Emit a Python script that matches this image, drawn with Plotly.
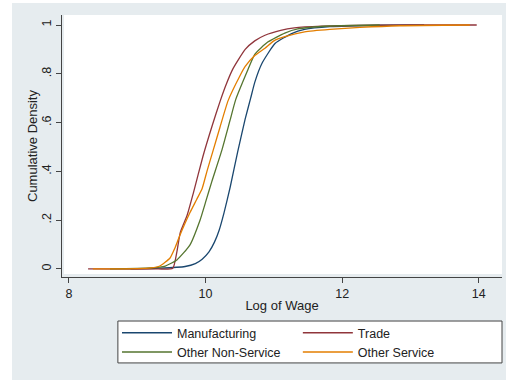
import plotly.graph_objects as go

# ---- data ----
series_names = ["Manufacturing", "Trade", "Other Non-Service", "Other Service"]
series_colors = ["#1a476f", "#90353b", "#55752f", "#e37e00"]
series_legend = ["legend", "legend2", "legend", "legend2"]

manuf_x = [8.90, 9.33, 9.70, 9.85, 9.95, 10.05, 10.13, 10.20, 10.27, 10.36, 10.47,
           10.58, 10.66, 10.72, 10.83, 11.02, 11.26, 11.45, 11.82, 12.55, 13.20]
manuf_y = [0.0, 0.003, 0.010, 0.022, 0.040, 0.070, 0.110, 0.160, 0.230, 0.335, 0.48,
           0.615, 0.70, 0.765, 0.845, 0.925, 0.965, 0.982, 0.993, 0.999, 1.0]

trade_x = [8.28, 9.30, 9.52, 9.58, 9.63, 9.73, 9.82, 9.96, 10.10, 10.21, 10.30, 10.40,
           10.58, 10.72, 10.87, 11.10, 11.30, 11.70, 12.20, 13.00, 13.97]
trade_y = [0.0, 0.0, 0.003, 0.07, 0.15, 0.22, 0.31, 0.46, 0.59, 0.685, 0.755, 0.82,
           0.90, 0.935, 0.958, 0.978, 0.988, 0.995, 0.998, 1.0, 1.0]

nonserv_x = [8.60, 9.19, 9.41, 9.58, 9.77, 9.92, 10.01, 10.09, 10.24, 10.36, 10.44,
             10.61, 10.72, 10.91, 11.16, 11.35, 11.82, 12.55]
nonserv_y = [0.0, 0.004, 0.012, 0.037, 0.098, 0.201, 0.283, 0.357, 0.488, 0.611, 0.693,
             0.81, 0.88, 0.93, 0.967, 0.984, 0.996, 1.0]

othserv_x = [8.35, 9.00, 9.20, 9.33, 9.48, 9.55, 9.62, 9.77, 9.87, 9.95, 10.02, 10.11,
             10.21, 10.33, 10.50, 10.58, 10.72, 10.87, 11.00, 11.16, 11.45, 11.82,
             12.26, 12.84, 13.87]
othserv_y = [0.0, 0.001, 0.004, 0.012, 0.045, 0.085, 0.135, 0.23, 0.285, 0.33, 0.40, 0.485,
             0.58, 0.69, 0.79, 0.83, 0.875, 0.905, 0.935, 0.952, 0.972, 0.982,
             0.99, 0.997, 1.0]

x_ticks = [8, 10, 12, 14]
y_ticks = [0, 0.2, 0.4, 0.6, 0.8, 1]
y_tick_labels = ["0", ".2", ".4", ".6", ".8", "1"]

xs = [manuf_x, trade_x, nonserv_x, othserv_x]
ys = [manuf_y, trade_y, nonserv_y, othserv_y]

FONT = "Liberation Sans, Arial, sans-serif"
AXC = "#444444"
TXT = "#222222"

fig = go.Figure()
for name, col, lg, x, y in zip(series_names, series_colors, series_legend, xs, ys):
    fig.add_trace(go.Scatter(
        x=x, y=y, mode="lines", name=name, legend=lg,
        line=dict(color=col, width=1.3, shape="spline", smoothing=0.5),
    ))

legend_common = dict(
    orientation="v", yanchor="top", xanchor="left",
    bgcolor="rgba(0,0,0,0)", borderwidth=0,
    font=dict(size=12.5, color=TXT), itemwidth=50, traceorder="normal",
)

fig.update_layout(
    template="none",
    width=510, height=383,
    margin=dict(l=62, r=8, t=15, b=106, autoexpand=False),
    paper_bgcolor="white",
    plot_bgcolor="rgba(0,0,0,0)",
    font=dict(family=FONT, size=12, color=TXT),
    shapes=[
        dict(type="rect", xref="paper", yref="paper",
             x0=-0.1136, x1=1.0091, y0=-0.3931, y1=1.0458,
             fillcolor="#e6ecef", line=dict(width=0), layer="below"),
        dict(type="rect", xref="paper", yref="paper",
             x0=0.0045, x1=1.0, y0=0.0115, y1=1.0,
             fillcolor="white", line=dict(width=0), layer="below"),
        dict(type="rect", xref="paper", yref="paper",
             x0=0.127, x1=0.873 + 0.127, y0=-0.328, y1=-0.168,
             fillcolor="white", line=dict(width=1, color=AXC), layer="above"),
    ],
    annotations=[
        dict(text="Cumulative Density", xref="paper", yref="paper",
             x=(32 - 62) / 440, y=0.5, xanchor="center", yanchor="middle",
             textangle=-90, showarrow=False, font=dict(size=13, color=TXT)),
    ],
    xaxis=dict(
        range=[7.898, 14.34], tickvals=x_ticks, ticktext=[str(v) for v in x_ticks],
        showline=True, linecolor=AXC, linewidth=1.2, showgrid=False, zeroline=False,
        ticks="outside", ticklen=5, tickcolor=AXC, tickwidth=1.2,
        tickfont=dict(size=12.5, color=TXT), automargin=False,
        title=dict(text="Log of Wage", font=dict(size=13, color=TXT), standoff=0),
    ),
    yaxis=dict(
        range=[-0.033, 1.041], tickvals=y_ticks, ticktext=y_tick_labels,
        tickangle=-90,
        showline=True, linecolor=AXC, linewidth=1.2, showgrid=False, zeroline=False,
        ticks="outside", ticklen=5, tickcolor=AXC, tickwidth=1.2,
        tickfont=dict(size=12.5, color=TXT), automargin=False,
    ),
    legend=dict(x=0.125, y=-0.157, **legend_common),
    legend2=dict(x=0.536, y=-0.157, **legend_common),
    showlegend=True,
)

fig.write_html("out.html", config={"displayModeBar": False},
               post_script="document.body.style.margin='0px';")
